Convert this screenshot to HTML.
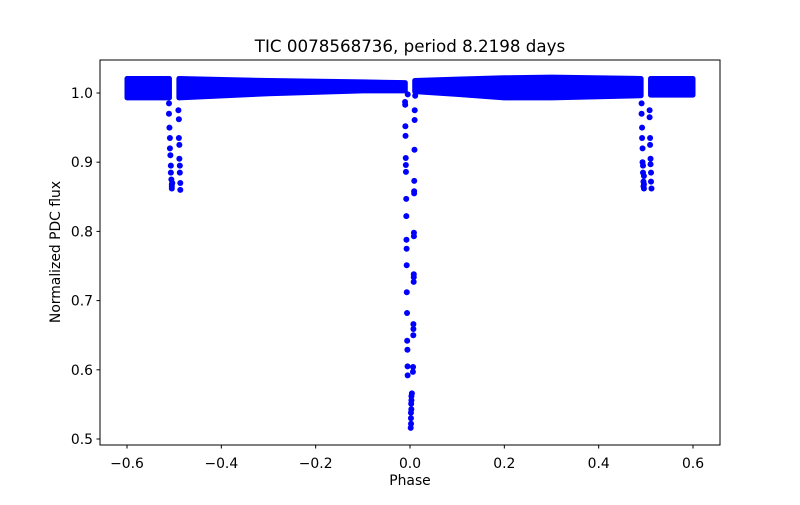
<!DOCTYPE html>
<html><head><meta charset="utf-8"><style>
body{margin:0;background:#fff}
svg text{font-family:"DejaVu Sans","Liberation Sans",sans-serif;fill:#000}
</style></head><body>
<svg id="chart" width="800" height="500" viewBox="0 0 800 500">
<rect width="800" height="500" fill="#fff"/>
<text x="410" y="52" font-size="16.7" text-anchor="middle">TIC 0078568736, period 8.2198 days</text>
<g id="bands"></g>
<g id="pts"></g>
<rect x="100" y="60" width="620" height="385" fill="none" stroke="#000" stroke-width="1"/>
<g id="xt"></g>
<g id="yt"></g>
<text x="410" y="485" font-size="13.9" text-anchor="middle">Phase</text>
<text transform="translate(60,252) rotate(-90)" font-size="13.9" text-anchor="middle">Normalized PDC flux</text>
</svg>
<script>
const xTicks=[-0.6,-0.4,-0.2,0.0,0.2,0.4,0.6];
const xTickLabels=["−0.6","−0.4","−0.2","0.0","0.2","0.4","0.6"];
const yTicks=[0.5,0.6,0.7,0.8,0.9,1.0];
const yTickLabels=["0.5","0.6","0.7","0.8","0.9","1.0"];
// baseline band segments: phase, upper flux, lower flux
const bandPhase=[[-0.6,-0.51],[-0.49,-0.3,-0.1,-0.01],[0.01,0.1,0.2,0.3,0.49],[0.51,0.6]];
const bandTop=[[1.021,1.021],[1.021,1.018,1.016,1.015],[1.018,1.02,1.022,1.023,1.021],[1.021,1.021]];
const bandBot=[[0.993,0.993],[0.993,0.999,1.003,1.003],[1.002,0.998,0.993,0.993,0.996],[0.997,0.997]];
// primary eclipse
const priPhase=[-0.0105,-0.0102,-0.0098,-0.0095,-0.009,-0.0088,-0.0086,-0.008,-0.0078,-0.0075,-0.0072,-0.007,-0.0068,-0.0063,-0.006,-0.0055,-0.0052,-0.005,-0.0048,
0.011,0.01,0.0098,0.0095,0.009,0.0088,0.0088,0.0083,0.0083,0.008,0.008,0.0078,0.0072,0.0072,0.007,0.0065,0.0062,
0.004,0.003,0.003,0.0025,0.0028,0.002,0.002,0.0022,0.0015];
const priFlux=[0.987,0.983,0.952,0.938,0.906,0.896,0.886,0.847,0.822,0.788,0.775,0.751,0.712,0.682,0.642,0.629,0.605,0.592,0.998,
0.996,0.975,0.961,0.918,0.873,0.858,0.855,0.798,0.793,0.738,0.734,0.727,0.666,0.659,0.65,0.604,0.597,
0.566,0.562,0.556,0.551,0.543,0.538,0.53,0.522,0.516];
// secondary eclipses
const secLPhase=[-0.511,-0.511,-0.51,-0.509,-0.509,-0.508,-0.507,-0.507,-0.506,-0.505,-0.505,-0.505,-0.504,
-0.491,-0.49,-0.49,-0.489,-0.489,-0.488,-0.488,-0.487,-0.487];
const secLFlux=[0.985,0.97,0.95,0.935,0.92,0.91,0.895,0.885,0.875,0.868,0.865,0.862,0.87,
0.975,0.962,0.935,0.925,0.905,0.895,0.885,0.87,0.86];
const secRPhase=[0.491,0.491,0.492,0.492,0.493,0.493,0.494,0.494,0.495,0.495,0.496,0.496,0.496,
0.508,0.508,0.509,0.509,0.51,0.51,0.511,0.511,0.512];
const secRFlux=[0.985,0.97,0.95,0.935,0.92,0.9,0.895,0.885,0.872,0.865,0.862,0.868,0.88,
0.975,0.965,0.935,0.925,0.905,0.897,0.885,0.872,0.862];

const X=p=>410+p*471.67;
const Y=f=>93+(1-f)*692;
const NS="http://www.w3.org/2000/svg";
function mk(t,a){const e=document.createElementNS(NS,t);for(const k in a)e.setAttribute(k,a[k]);return e;}
const xt=document.getElementById('xt'),yt=document.getElementById('yt');
xTicks.forEach((v,i)=>{
  const l=mk('line',{x1:X(v),x2:X(v),y1:445,y2:448.5,stroke:'#000'});
  
  
  xt.appendChild(l);
  const t=mk('text',{x:X(v),y:468,'font-size':13.9,'text-anchor':'middle'});
  t.textContent=xTickLabels[i];
  
  
  xt.appendChild(t);
});
yTicks.forEach((v,i)=>{
  const l=mk('line',{x1:96.5,x2:100,y1:Y(v),y2:Y(v),stroke:'#000'});
  
  
  yt.appendChild(l);
  const t=mk('text',{x:93,y:Y(v)+5,'font-size':13.9,'text-anchor':'end'});
  t.textContent=yTickLabels[i];
  
  
  yt.appendChild(t);
});
const bands=document.getElementById('bands');
bandPhase.forEach((ph,s)=>{
  let d='';
  ph.forEach((p,i)=>{d+=(i?'L':'M')+X(p)+','+Y(bandTop[s][i]);});
  for(let i=ph.length-1;i>=0;i--)d+='L'+X(ph[i])+','+Y(bandBot[s][i]);
  d+='Z';
  const path=mk('path',{d:d,fill:'#0000ff',stroke:'#0000ff','stroke-width':5,'stroke-linejoin':'round'});
  
  
  bands.appendChild(path);
});
const pts=document.getElementById('pts');
function dots(ph,fl){ph.forEach((p,i)=>{
  const c=mk('circle',{cx:X(p),cy:Y(fl[i]),r:3,fill:'#0000ff'});
  
  
  pts.appendChild(c);
});}
dots(priPhase,priFlux);dots(secLPhase,secLFlux);dots(secRPhase,secRFlux);
</script>
</body></html>
